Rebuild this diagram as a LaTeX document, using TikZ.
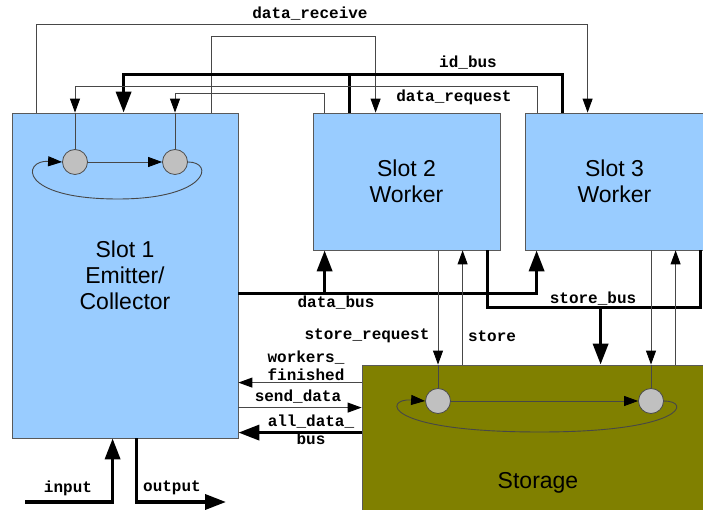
\documentclass[tikz,border=0pt]{standalone}
\usepackage{fontspec}
\setmainfont{Liberation Sans}
\newfontfamily\codefont{Liberation Mono}
\usetikzlibrary{calc,arrows.meta}
\definecolor{slotblue}{HTML}{99CCFF}
\definecolor{storeolive}{HTML}{808000}
\definecolor{tokgray}{HTML}{C0C0C0}

\begin{document}
\begin{tikzpicture}[x=1pt,y=1pt,>={Triangle[length=14pt,width=10pt,color=black]},
  box/.style={draw=black!65,line width=.8pt,fill=slotblue,inner sep=0pt,align=center,font=\fontsize{23}{26}\selectfont},
  tok/.style={circle,draw=black!70,line width=.8pt,fill=tokgray,minimum size=25pt,inner sep=0pt},
  sig/.style={draw=black!72,line width=.9pt},
  bus/.style={line width=3.6pt,>={Triangle[length=21pt,width=15pt]}},
  lbl/.style={font=\codefont\bfseries\fontsize{16}{18.5}\selectfont,inner sep=0pt,align=center}]
 \useasboundingbox (0,0) rectangle (703,510);
 \node[box,minimum width=226pt,minimum height=325pt] (slotA) at (125,234.5) {Slot 1\\Emitter/\\Collector};
 \node[box,minimum width=187pt,minimum height=137pt] (slotB) at (406.5,328.5) {Slot 2\\Worker};
 \node[box,minimum width=179pt,minimum height=137pt] (slotC) at (614.5,328.5) {Slot 3\\Worker};
 \node[box,fill=storeolive,minimum width=344pt,minimum height=147pt] (storage) at (534,71.5) {};
 \node[font=\fontsize{23}{26}\selectfont] (stxt) at (538,27) {Storage};
 \node[tok] (c1) at (75,348) {};
 \node[tok] (c2) at (175,348) {};
 \node[tok] (s1) at (438,109) {};
 \node[tok] (s2) at (651,109) {};
 \coordinate (wf) at ([yshift=-18]storage.north west);
 \coordinate (sd) at ([yshift=-43]storage.north west);
 \coordinate (adb) at ([yshift=-68]storage.north west);
 \coordinate (inp) at (25,8);
 \coordinate (outp) at (226,8);
 \draw[sig,->] (c1) -- (c2);
 \draw[sig,->] (c2.east) .. controls (215,348) and (208,311) .. (118,311) .. controls (18,311) and (22,350) .. (c1.west);
 \draw[sig,->] (s1) -- (s2);
 \draw[sig,->] (s2.east) .. controls (692,109) and (684,78) .. (540,78) .. controls (380,78) and (384,112) .. (s1.west);
 \draw[sig,->] ([xshift=25]slotA.north west) -- ++(0,88) -| ([xshift=63]slotC.north west);
 \draw[sig,->] ([xshift=200]slotA.north west) -- ++(0,76) -| ([xshift=63]slotB.north west);
 \draw[bus,->] ([xshift=38]slotC.north west) -- ++(0,38) -| ([xshift=112]slotA.north west);
 \draw[bus] ([xshift=37]slotB.north west) -- ++(0,38);
 \draw[sig,->] ([xshift=13]slotC.north west) -- ++(0,26) -| (c1.north |- slotA.north);
 \draw[sig] (c1.north |- slotA.north) -- (c1);
 \draw[sig,->] ([xshift=12]slotB.north west) -- ++(0,19) -| (c2.north |- slotA.north);
 \draw[sig] (c2.north |- slotA.north) -- (c2);
 \draw[bus,->] ([yshift=145]slotA.south east) -| ([xshift=12]slotC.south west);
 \draw[bus,->] ([xshift=12,yshift=-43]slotB.south west) -- ([xshift=12]slotB.south west);
 \draw[bus] ([xshift=-13]slotB.south east) |- ([xshift=-4,yshift=-57]slotC.south east) -- ([xshift=-4]slotC.south east);
 \draw[bus,->] ([xshift=239,yshift=58]storage.north west) -- ([xshift=239]storage.north west);
 \draw[sig,->] (s1.north |- slotB.south) -- (s1.north |- storage.north);
 \draw[sig] (s1.north |- storage.north) -- (s1);
 \draw[sig,->] ([xshift=101]storage.north west) -- ([xshift=150]slotB.south west);
 \draw[sig,->] (s2.north |- slotC.south) -- (s2.north |- storage.north);
 \draw[sig] (s2.north |- storage.north) -- (s2);
 \draw[sig,->] ([xshift=314]storage.north west) -- ([xshift=151]slotC.south west);
 \draw[sig,->] (wf) -- (wf -| slotA.east);
 \draw[sig,->] (sd -| slotA.east) -- (sd);
 \draw[bus,->] (adb) -- (adb -| slotA.east);
 \draw[bus,->] (inp) -| ([xshift=101]slotA.south west);
 \draw[bus,->] ([xshift=125]slotA.south west) |- (outp);
 \node[lbl] (lrecv) at (310,496) {data\_receive};
 \node[lbl] (lidbus) at (468,447) {id\_bus};
 \node[lbl] (lreq) at (454,413) {data\_request};
 \node[lbl] (ldbus) at (336,207) {data\_bus};
 \node[lbl] (lsbus) at (593,211) {store\_bus};
 \node[lbl] (lsreq) at (367,174) {store\_request};
 \node[lbl] (lstore) at (492,174) {store};
 \node[lbl] (lwf) at (306,144) {workers\_\\finished};
 \node[lbl] (lsd) at (298,113) {send\_data};
 \node[lbl] (ladb) at (311,80) {all\_data\_\\bus};
 \node[lbl] (lin) at (68,22) {input};
 \node[lbl] (lout) at (172,22) {output};
\end{tikzpicture}
\end{document}
